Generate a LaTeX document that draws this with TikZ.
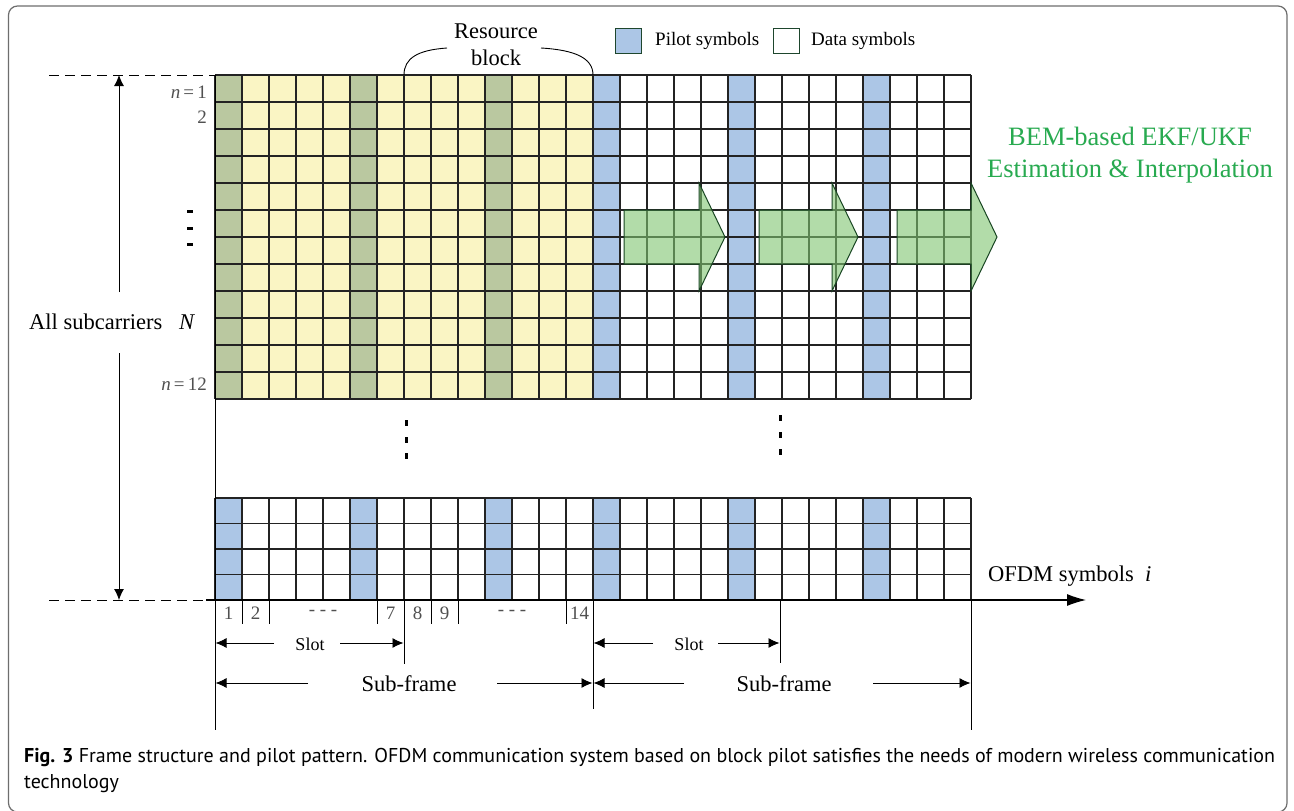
\documentclass[tikz,border=0pt]{standalone}
\usepackage{fontspec}
\setmainfont{Liberation Serif}
\newfontfamily\capfont{PT Sans}
\usetikzlibrary{arrows.meta,patterns}
\definecolor{rbyellow}{RGB}{250,245,196}
\definecolor{pilotblue}{RGB}{172,198,230}
\definecolor{pilotgreen}{RGB}{186,200,160}
\definecolor{gridc}{RGB}{35,35,35}
\definecolor{pilotedge}{RGB}{30,70,45}
\definecolor{arrowgreen}{RGB}{128,197,113}
\definecolor{arrowedge}{RGB}{25,70,35}
\definecolor{textgreen}{RGB}{40,170,80}
\definecolor{framegrey}{RGB}{110,110,110}
\definecolor{labgrey}{RGB}{80,80,80}
\begin{document}
\begin{tikzpicture}[x=1pt,y=-1pt,
  gridline/.style={draw=gridc,line width=1.3pt},
  thinline/.style={draw=black,line width=0.9pt},
  dimarrow/.style={thinline,-{Latex[length=11pt,width=10pt]}},
  dashline/.style={draw=black,line width=1pt,dash pattern=on 10pt off 6pt},
  pilotcellB/.style={fill=pilotblue,draw=pilotedge,line width=1pt},
  pilotcellG/.style={fill=pilotgreen,draw=pilotedge,line width=1pt},
  bigarrow/.style={fill=arrowgreen,fill opacity=0.6,draw=arrowedge,line width=1pt},
  maintext/.style={font=\fontsize{22.5}{27}\selectfont,inner sep=0pt},
  legtext/.style={font=\fontsize{19}{23}\selectfont,inner sep=0pt,anchor=west},
  idxtext/.style={font=\fontsize{19}{22}\selectfont,text=labgrey,inner sep=0pt},
  slottext/.style={font=\fontsize{18}{22}\selectfont,inner sep=0pt},
  vdot/.style={fill=black,draw=none}
]
\useasboundingbox (0,0) rectangle (1294,811);
\fill[white] (0,0) rectangle (1294,811);
% outer frame
\draw[framegrey,line width=1.2pt,rounded corners=9pt] (8.5,6) rectangle (1287,812);

% ---------- top grid (12 rows) ----------
\fill[rbyellow] (215,75) rectangle (593,399);
\foreach \c in {0,5,10}{
  \path[pilotcellG] ({215+27*\c},75) rectangle ({242+27*\c},399);
}
\foreach \c in {14,19,24}{
  \path[pilotcellB] ({215+27*\c},75) rectangle ({242+27*\c},399);
}
\foreach \r in {0,...,12}{
  \draw[gridline] (215,{75+27*\r}) -- (971,{75+27*\r});
}
\foreach \c in {0,...,28}{
  \draw[gridline] ({215+27*\c},75) -- ({215+27*\c},399);
}

% ---------- bottom grid (4 rows) ----------
\foreach \c in {0,5,10,14,19,24}{
  \path[pilotcellB] ({215+27*\c},498) rectangle ({242+27*\c},600);
}
\foreach \r in {0,...,4}{
  \draw[gridline] (215,{498+25.5*\r}) -- (971,{498+25.5*\r});
}
\foreach \c in {0,...,28}{
  \draw[gridline] ({215+27*\c},498) -- ({215+27*\c},600);
}

% ---------- green estimation arrows ----------
\foreach \xa/\xb/\xt in {624/699/725, 759/832/858, 897/971/997}{
  \path[bigarrow] (\xa,210) -- (\xb,210) -- (\xb,183) -- (\xt,237) -- (\xb,291) -- (\xb,264) -- (\xa,264) -- cycle;
}
\node[font=\fontsize{26.5}{32}\selectfont,text=textgreen,align=center,inner sep=0pt] (bem) at (1130,155)
  {BEM-based EKF/UKF\\Estimation \& Interpolation};

% ---------- resource block brace ----------
\node[maintext,align=center] (rb) at (496,45) {Resource\\block};
\coordinate (rbl) at (404,75);
\coordinate (rbr) at (593,75);
\draw[thinline] (rbl) .. controls (404,58) and (418,50) .. (447,48);
\draw[thinline] (rbr) .. controls (593,58) and (575,50) .. (541,48);

% ---------- legend ----------
\path[pilotcellB] (615,28) rectangle (641,53);
\node[legtext] (pl) at (655,41) {Pilot symbols};
\path[fill=white,draw=pilotedge,line width=1pt] (773,28) rectangle (799,53);
\node[legtext] (dl) at (811,41) {Data symbols};

% ---------- row labels ----------
\node[idxtext,anchor=east] (n1) at (207,92) {\textit{n}\,=\,1};
\node[idxtext,anchor=east] (n2) at (207,117) {2};
\node[idxtext,anchor=east] (n12) at (207,384) {\textit{n}\,=\,12};
\foreach \yy in {211,228,244}{
  \path[vdot] (187,\yy-1.5) rectangle (193,\yy+1.5);
}
% vertical dots between grids
\foreach \yy in {423,440,456}{
  \path[vdot] (404.5,\yy-3) rectangle (407.5,\yy+3);
}
\foreach \yy in {418,435,452}{
  \path[vdot] (778.5,\yy-3) rectangle (781.5,\yy+3);
}

% ---------- left axis / subcarriers ----------
\coordinate (topd) at (49,75);
\coordinate (topg) at (215,75);
\coordinate (botd) at (49,600);
\coordinate (bots) at (206,600);
\coordinate (axend) at (1086,600);
\draw[dashline] (topd) -- (topg);
\draw[dashline] (botd) -- (bots);
\draw[line width=1.1pt,-{Latex[length=19pt,width=12pt]}] (bots) -- (axend);
\node[maintext,anchor=west] (allsub) at (29,322) {All subcarriers\ \ \ \textit{N}};
\coordinate (vt) at (119,75);
\coordinate (vb) at (119,600);
\draw[dimarrow] (119,292) -- (vt);
\draw[dimarrow] (119,353) -- (vb);
\node[maintext,anchor=west] (ofdm) at (988,576) {OFDM symbols\ \ \textit{i}};

% vertical guide lines
\draw[line width=1pt] (215,75) -- (215,730);
\draw[line width=1pt] (971,600) -- (971,730);
\draw[line width=1pt] (593,600) -- (593,709);
\draw[line width=1pt] (404,600) -- (404,664);
\draw[line width=1pt] (780,600) -- (780,663);

% ---------- index ticks ----------
\foreach \xx in {242,269,377,431,458,566}{
  \draw[line width=0.9pt] (\xx,600) -- (\xx,624);
}
\node[idxtext] (i1) at (228.5,613) {1};
\node[idxtext] (i2) at (255.5,613) {2};
\node[idxtext] (id1) at (323,613) {- - -};
\node[idxtext] (i7) at (390.5,613) {7};
\node[idxtext] (i8) at (417.5,613) {8};
\node[idxtext] (i9) at (444.5,613) {9};
\node[idxtext] (id2) at (512,613) {- - -};
\node[idxtext] (i14) at (579.5,613) {14};

% ---------- slot / sub-frame dimensions ----------
\node[slottext] (slot1) at (310,644) {Slot};
\node[slottext] (slot2) at (689,644) {Slot};
\draw[dimarrow] (274,643) -- (215.5,643);
\draw[dimarrow] (340,643) -- (403.5,643);
\draw[dimarrow] (653,643) -- (593.5,643);
\draw[dimarrow] (718,643) -- (779.5,643);
\node[maintext] (sf1) at (409,684) {Sub-frame};
\node[maintext] (sf2) at (784,684) {Sub-frame};
\draw[dimarrow] (308,683) -- (215.5,683);
\draw[dimarrow] (497,683) -- (592.5,683);
\draw[dimarrow] (684,683) -- (593.5,683);
\draw[dimarrow] (873,683) -- (970.5,683);

% ---------- caption ----------
\node[anchor=north west,align=left,inner sep=0pt,font=\capfont\fontsize{20}{26}\selectfont] (cap) at (24,748)
  {{\bfseries Fig. 3} Frame structure and pilot pattern. OFDM communication system based on block pilot satisfies the needs of modern wireless communication\\technology};
\end{tikzpicture}
\end{document}
